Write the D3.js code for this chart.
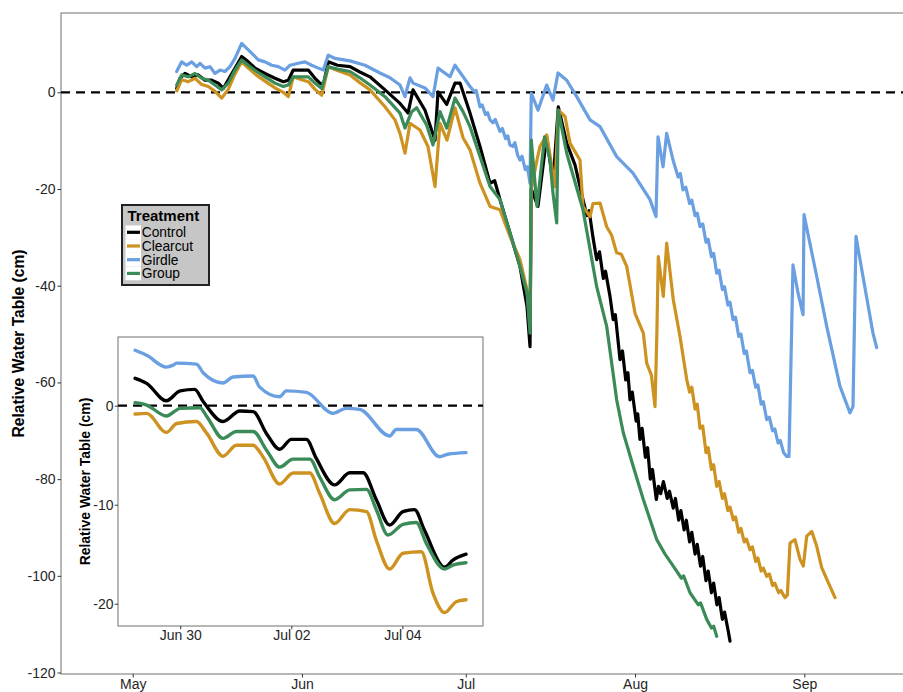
<!DOCTYPE html>
<html>
<head>
<meta charset="utf-8">
<script src="https://cdn.jsdelivr.net/npm/d3@7"></script>
<style>
  html, body { margin: 0; padding: 0; background: #fff; }
  svg { display: block; font-family: "Liberation Sans", Arial, sans-serif; }
</style>
</head>
<body>
<svg id="chart" width="903" height="692"></svg>
<script>
// Relative water table (cm) by treatment, 2017 season.
// Main series: [day of year, water table in cm]
const treatments = ["Control", "Clearcut", "Girdle", "Group"];
const treatmentColors = ["#000000", "#CD9220", "#6A9FE2", "#3A8B58"];

const control = [
  [129.06,0.8],[129.66,2.9],[130.58,3.9],[131.81,3.2],[133.01,3.6],[134.24,2.5],[135.47,2.5],
  [136.68,1.9],[137.59,0.8],[138.82,3.2],[140.05,5.6],[140.96,7.4],[142.17,6.3],[143.4,5.0],
  [145.23,3.9],[147.06,2.9],[148.58,2.2],[149.5,2.5],[150.41,4.6],[151.95,4.6],[153.16,4.6],
  [154.39,2.9],[155.3,1.9],[155.91,1.5],[156.82,6.3],[158.5,5.6],[160.8,5.3],[162.6,4.2],[164.46,3.2],
  [167.21,0.5],[169.96,-2.3],[171.42,-4.3],[172.34,0.5],[174.54,-3.7],[176.37,-9.9],[176.92,0.1],
  [178.51,-2.5],[180.03,1.9],[180.95,1.9],[182.78,-4.3],[184.61,-11.2],[186.44,-18.8],[187.3,-18.3],
  [188.27,-22.2],[190.1,-29.1],[191.93,-36.0],[193.22,-44.3],[193.77,-52.6],[194.0,-20.0],
  [195.23,-23.6],[196.82,-9.2],[197.98,-18.8],[198.95,-3.0],[200.49,-10.5],[202.01,-15.0],
  [203.47,-22.2],[204.2,-25.5],[204.6,-24.5],[205.3,-30.0],[205.98,-34.6],[206.5,-33.0],
  [207.2,-38.5],[207.6,-37.0],[208.42,-42.2],[209.0,-47.0],[209.4,-46.0],[210.25,-55.3],
  [210.7,-53.5],[211.3,-59.5],[211.7,-58.0],[212.08,-63.6],[212.5,-62.0],[213.2,-68.0],
  [213.5,-66.5],[213.9,-71.8],[214.3,-69.5],[214.9,-75.5],[215.3,-73.5],[215.8,-80.0],
  [216.2,-78.0],[216.9,-84.2],[217.3,-81.5],[217.7,-83.0],[218.2,-80.5],[218.9,-84.0],
  [219.3,-82.5],[220.0,-86.0],[220.4,-84.0],[221.0,-88.5],[221.4,-86.5],[222.0,-90.5],
  [222.4,-88.5],[223.0,-93.0],[223.4,-91.0],[224.0,-95.5],[224.4,-93.5],[225.0,-98.0],
  [225.4,-96.0],[226.0,-101.0],[226.4,-99.0],[227.0,-103.5],[227.4,-101.5],[228.0,-106.0],
  [228.4,-104.5],[229.0,-109.0],[229.4,-107.5],[230.0,-111.0],[230.4,-113.5]
];

const clearcut = [
  [129.06,0.3],[129.97,2.6],[131.18,2.2],[132.41,2.9],[133.64,1.6],[134.85,1.2],[136.07,0.2],
  [137.3,-1.2],[138.51,0.6],[139.74,3.8],[140.96,6.3],[142.17,5.0],[143.71,3.5],[145.23,2.3],
  [147.06,0.9],[148.58,0.0],[149.5,-0.9],[150.41,3.2],[151.95,2.6],[153.16,2.2],[154.39,0.6],
  [155.62,-0.6],[156.82,5.3],[158.5,4.5],[160.8,3.6],[162.6,2.0],[164.46,0.5],[167.21,-3.0],[169.04,-5.7],
  [169.96,-8.5],[170.87,-12.6],[171.79,-6.4],[173.62,-7.8],[175.08,-11.2],[176.37,-19.5],
  [177.28,-6.4],[178.56,-9.9],[180.03,-3.2],[181.5,-9.4],[182.78,-11.9],[184.61,-18.8],
  [186.44,-23.6],[188.27,-24.3],[190.1,-29.8],[191.93,-34.6],[193.22,-40.8],[193.77,-48.0],
  [194.0,-20.0],[195.05,-14.0],[195.6,-11.2],[196.82,-8.8],[198.35,-19.5],[198.95,-3.7],
  [200.18,-5.0],[201.09,-10.5],[202.92,-14.0],[203.47,-23.6],[204.76,-25.7],[205.3,-23.0],
  [206.59,-22.9],[207.81,-27.8],[208.7,-29.5],[209.64,-33.2],[210.5,-33.5],[211.48,-36.0],
  [213.0,-45.7],[214.52,-49.8],[215.14,-56.0],[216.0,-58.5],[216.66,-65.0],[217.0,-50.0],
  [217.26,-34.0],[218.18,-42.2],[218.8,-31.2],[220.01,-42.9],[221.24,-50.5],[222.47,-59.4],
  [223.0,-62.0],[223.4,-61.0],[224.0,-65.5],[224.4,-64.5],[224.9,-69.5],[225.4,-69.0],
  [226.0,-74.5],[226.4,-73.5],[227.0,-78.0],[227.4,-77.0],[227.96,-81.5],[228.4,-80.5],
  [229.0,-84.0],[229.4,-83.0],[230.0,-86.5],[230.4,-85.8],[231.0,-88.4],[231.4,-87.8],
  [232.0,-91.0],[232.4,-90.2],[233.0,-93.0],[233.4,-92.4],[234.06,-94.6],[234.5,-94.0],
  [235.1,-97.0],[235.5,-96.3],[236.1,-99.0],[236.5,-98.4],[237.12,-100.1],[237.6,-99.6],
  [238.2,-102.0],[238.6,-101.5],[239.3,-103.5],[239.7,-103.0],[240.47,-104.5],
  [240.9,-104.0],[241.39,-93.2],[242.3,-92.5],[243.22,-96.6],[243.82,-98.0],[244.45,-91.8],
  [245.36,-90.8],[246.28,-93.9],[247.19,-98.3],[248.4,-101.4],[249.63,-104.5]
];

const girdle = [
  [129.06,4.3],[129.97,6.3],[130.89,5.6],[131.81,6.3],[132.72,5.3],[133.33,6.0],[134.24,5.0],
  [135.16,5.3],[136.07,3.9],[136.99,4.6],[137.9,4.3],[138.82,5.3],[139.74,7.0],[140.96,10.1],
  [141.88,9.1],[142.79,8.1],[144.0,6.7],[145.23,6.3],[146.46,5.6],[147.67,5.3],[148.89,4.6],
  [149.81,5.6],[151.33,6.0],[152.56,6.3],[153.78,5.6],[154.99,5.0],[155.91,4.6],[156.82,7.7],
  [158.05,7.0],[160.8,6.5],[163.55,5.6],[166.29,4.0],[168.12,3.0],[169.96,1.5],[170.87,-0.9],
  [171.79,3.0],[172.34,1.9],[174.54,0.9],[176.0,-0.9],[176.92,5.0],[179.11,3.2],[180.03,5.6],
  [182.78,1.2],[183.5,0.2],[183.9,0.4],[184.61,-3.0],[185.0,-2.6],[185.6,-4.6],[186.0,-4.2],
  [186.44,-5.7],[187.0,-6.3],[187.4,-5.6],[188.27,-8.1],[188.7,-7.5],[189.3,-9.6],[189.7,-9.0],
  [190.1,-10.9],[190.6,-11.2],[191.0,-10.4],[191.5,-13.0],[191.93,-14.0],[192.3,-13.2],
  [192.9,-16.0],[193.3,-15.4],[193.77,-18.8],[194.0,-0.2],[195.23,-3.7],[196.82,1.5],
  [197.98,-1.6],[198.89,4.0],[200.49,2.5],[202.32,-0.9],[204.76,-5.7],[206.59,-7.1],
  [209.64,-13.3],[212.63,-16.7],[215.74,-22.2],[216.84,-25.7],[217.21,-9.2],[218.13,-15.4],
  [218.8,-8.5],[219.96,-14.0],[220.9,-17.5],[221.3,-16.8],[221.79,-20.2],[222.3,-19.6],
  [223.0,-23.0],[223.4,-22.3],[224.0,-25.5],[224.4,-25.0],[224.9,-27.8],[225.4,-27.2],
  [226.0,-31.0],[226.4,-30.4],[227.0,-34.0],[227.4,-33.3],[227.96,-37.4],[228.4,-36.8],
  [229.0,-40.8],[229.4,-40.2],[230.0,-44.0],[230.4,-43.4],[230.95,-47.0],[231.4,-46.5],
  [232.0,-50.5],[232.4,-50.0],[233.0,-54.0],[233.4,-53.5],[234.06,-58.0],[234.5,-57.5],
  [235.1,-61.0],[235.5,-60.5],[236.1,-64.5],[236.5,-64.0],[237.12,-67.7],[237.6,-67.2],
  [238.2,-70.0],[238.6,-69.6],[239.2,-72.5],[239.6,-72.0],[240.2,-74.5],[240.78,-75.3],
  [241.2,-75.3],[241.93,-35.7],[242.85,-41.5],[243.77,-46.0],
  [243.95,-25.3],[246.28,-38.1],[248.11,-48.4],[250.54,-60.8],[252.37,-66.3],[252.92,-65.0],
  [253.47,-29.8],[254.75,-38.1],[256.58,-49.8],[257.26,-52.8]
];

const group = [
  [129.06,1.5],[129.97,3.6],[131.18,3.2],[132.41,3.9],[133.64,2.9],[134.85,2.5],[136.07,1.5],
  [137.3,0.5],[138.51,1.9],[139.74,4.6],[140.96,6.7],[142.17,5.6],[143.71,4.3],[145.23,3.2],
  [147.06,1.9],[148.58,1.2],[149.5,1.5],[150.41,3.2],[151.95,3.2],[153.16,3.2],[154.39,1.9],
  [155.62,0.8],[156.82,5.3],[158.5,4.8],[160.8,4.3],[162.6,3.0],[164.46,1.5],[167.21,-0.9],[169.96,-4.3],
  [170.87,-7.4],[172.1,-4.0],[173.01,-3.2],[174.85,-6.8],[176.0,-10.9],[177.28,-4.0],
  [178.51,-7.4],[180.03,-1.2],[181.5,-4.0],[182.78,-7.1],[184.61,-13.3],[186.44,-19.5],
  [188.27,-22.2],[190.1,-29.1],[191.93,-36.0],[193.22,-41.5],[193.77,-49.8],[194.0,-9.9],
  [195.05,-23.6],[196.44,-9.2],[197.43,-14.0],[197.98,-20.9],[198.66,-27.0],[198.95,-3.7],
  [200.49,-12.6],[203.47,-24.3],[205.98,-40.2],[207.81,-48.4],[209.64,-63.6],[210.85,-70.4],
  [212.68,-77.4],[214.52,-84.2],[216.97,-92.5],[218.5,-95.5],[220.01,-98.0],[221.5,-100.5],
  [221.9,-100.0],[223.07,-103.5],[224.6,-106.0],[225.0,-105.6],[226.13,-109.0],[227.0,-110.8],
  [227.4,-110.4],[227.96,-112.5]
];

// Inset: 28 Jun - 5 Jul, [time, water table in cm]
const insetControl = [
  ["06-29 04:30",2.77],["06-29 09:30",2.26],["06-29 18:00",0.5],["06-30 00:00",1.5],
  ["06-30 06:15",1.65],["06-30 10:00",0.4],["06-30 18:30",-1.6],["07-01 01:45",-0.54],
  ["07-01 07:30",-0.6],["07-01 13:15",-2.8],["07-01 19:00",-4.4],["07-02 00:00",-3.4],
  ["07-02 06:30",-3.4],["07-02 10:45",-5.3],["07-02 18:45",-8.0],["07-03 01:15",-6.77],
  ["07-03 07:00",-6.77],["07-03 12:45",-9.5],["07-03 18:30",-12.05],["07-04 00:15",-10.7],
  ["07-04 05:15",-10.5],["07-04 09:30",-12.55],["07-04 18:15",-16.3],["07-04 21:50",-15.6],
  ["07-05 03:30",-15.0]
];
const insetClearcut = [
  ["06-29 04:30",-0.84],["06-29 09:30",-0.77],["06-29 18:00",-2.7],["06-29 22:30",-1.8],
  ["06-30 07:00",-1.6],["06-30 11:30",-2.8],["06-30 18:30",-5.1],["07-01 00:15",-4.0],
  ["07-01 07:30",-4.0],["07-01 11:45",-5.15],["07-01 19:00",-7.9],["07-02 00:45",-6.8],
  ["07-02 08:00",-6.8],["07-02 12:15",-8.85],["07-02 18:45",-11.9],["07-03 01:15",-10.5],
  ["07-03 08:30",-10.7],["07-03 12:45",-13.6],["07-03 18:30",-16.5],["07-04 00:15",-14.9],
  ["07-04 08:10",-14.75],["07-04 13:15",-18.95],["07-04 18:15",-20.9],["07-04 23:15",-19.8],
  ["07-05 03:30",-19.6]
];
const insetGirdle = [
  ["06-29 04:30",5.6],["06-29 09:30",5.1],["06-29 18:00",3.9],["06-29 21:00",4.1],
  ["06-29 22:30",4.3],["06-30 07:00",4.2],["06-30 10:00",3.3],["06-30 18:30",2.3],
  ["06-30 22:45",2.9],["07-01 07:30",3.0],["07-01 10:15",1.9],["07-01 19:00",0.9],
  ["07-01 21:50",1.5],["07-02 06:30",1.35],["07-02 18:00",-0.77],["07-02 23:45",-0.27],
  ["07-03 05:30",-0.37],["07-03 18:30",-3.06],["07-03 21:20",-2.4],["07-04 06:00",-2.4],
  ["07-04 16:00",-5.15],["07-04 19:40",-4.9],["07-05 03:30",-4.74]
];
const insetGroup = [
  ["06-29 04:30",0.3],["06-29 09:30",0.07],["06-29 18:00",-1.04],["06-30 00:00",-0.27],
  ["06-30 08:30",-0.2],["06-30 11:30",-1.1],["06-30 18:30",-3.3],["07-01 00:15",-2.6],
  ["07-01 07:30",-2.6],["07-01 13:15",-4.47],["07-01 19:00",-6.2],["07-02 00:45",-5.4],
  ["07-02 08:00",-5.4],["07-02 12:15",-7.2],["07-02 18:45",-9.5],["07-03 01:15",-8.5],
  ["07-03 08:30",-8.45],["07-03 12:45",-10.5],["07-03 17:45",-13.06],["07-04 00:15",-11.98],
  ["07-04 06:00",-11.8],["07-04 10:20",-13.9],["07-04 18:15",-16.5],["07-04 21:50",-16.1],
  ["07-05 03:30",-15.86]
];

const mainYTicks = [-120, -100, -80, -60, -40, -20, 0];
const mainXTicks = ["05-01", "06-01", "07-01", "08-01", "09-01"];
const insetYTicks = [-20, -10, 0];
const insetXTicks = ["06-30 00:00", "07-02 00:00", "07-04 00:00"];

const mainSeries = [control, clearcut, girdle, group];
const insetSeries = [insetControl, insetClearcut, insetGirdle, insetGroup];

// ---------------------------------------------------------------------------
const YEAR = 2017;
const doyToDate = doy => new Date(Date.UTC(YEAR, 0, 1) + (doy - 1) * 864e5);
const parseMD = d3.utcParse("%Y-%m-%d");
const parseMDHM = d3.utcParse("%Y-%m-%d %H:%M");
const md = s => parseMD(`${YEAR}-${s}`);
const mdhm = s => parseMDHM(`${YEAR}-${s}`);

const svg = d3.select("#chart");
const axisGrey = "#7d7d7d";
const textCol = "#262626";

function styleAxis(g, size) {
  g.select(".domain").remove();
  g.selectAll(".tick line").attr("stroke", "#333");
  g.selectAll(".tick text").attr("fill", textCol)
    .style("font-size", size + "px").style("font-family", "Liberation Sans, Arial, sans-serif");
}

// Main panel
const M = { left: 61, top: 13, right: 903, bottom: 674 };
const x = d3.scaleUtc()
  .domain([doyToDate(107.87), doyToDate(262.08)])
  .range([M.left, M.right]);
const y = d3.scaleLinear().domain([-120.3, 16.4]).range([M.bottom, M.top]);

svg.append("rect")
  .attr("x", M.left).attr("y", M.top)
  .attr("width", M.right - M.left + 10).attr("height", M.bottom - M.top)
  .attr("fill", "none").attr("stroke", axisGrey).attr("stroke-width", 1.1);

const xAxis = svg.append("g")
  .attr("transform", `translate(0,${M.bottom})`)
  .call(d3.axisBottom(x).tickValues(mainXTicks.map(md))
    .tickFormat(d3.utcFormat("%b")).tickSize(3.5).tickSizeOuter(0));
const yAxis = svg.append("g")
  .attr("transform", `translate(${M.left},0)`)
  .call(d3.axisLeft(y).tickValues(mainYTicks)
    .tickFormat(d => String(d)).tickSize(3.5).tickSizeOuter(0));
styleAxis(xAxis, 14);
styleAxis(yAxis, 14);
xAxis.selectAll(".tick text").attr("y", 14.5).attr("dy", 0);
yAxis.selectAll(".tick text").attr("x", -5.5);

svg.append("text")
  .attr("transform", `translate(24,${(M.top + M.bottom) / 2}) rotate(-90)`)
  .attr("text-anchor", "middle")
  .attr("fill", "#000")
  .style("font-size", "15.6px").style("font-weight", "bold")
  .text("Relative Water Table (cm)");

// zero reference line
svg.append("line")
  .attr("x1", M.left).attr("x2", M.right)
  .attr("y1", y(0)).attr("y2", y(0))
  .attr("stroke", "#000").attr("stroke-width", 2.2)
  .attr("stroke-dasharray", "9,6");

const mainLine = d3.line()
  .x(d => x(doyToDate(d[0])))
  .y(d => y(d[1]));

svg.append("g").selectAll("path")
  .data(mainSeries)
  .join("path")
  .attr("d", mainLine)
  .attr("fill", "none")
  .attr("stroke", (d, i) => treatmentColors[i])
  .attr("stroke-width", 3.2)
  .attr("stroke-linejoin", "round")
  .attr("stroke-linecap", "round");

// Legend
const lg = svg.append("g").attr("transform", "translate(122,205)");
lg.append("rect").attr("width", 87).attr("height", 80)
  .attr("fill", "#c6c6c6").attr("stroke", "#222").attr("stroke-width", 2);
lg.append("text").attr("x", 5.5).attr("y", 15.7)
  .style("font-size", "15px").style("font-weight", "bold").attr("fill", "#000")
  .text("Treatment");
treatments.forEach((t, i) => {
  const cy = 27.3 + i * 13.7;
  lg.append("rect").attr("x", 3.5).attr("y", cy - 6.85).attr("width", 15.5).attr("height", 13.7)
    .attr("fill", "#fff");
  lg.append("line").attr("x1", 5).attr("x2", 18).attr("y1", cy).attr("y2", cy)
    .attr("stroke", treatmentColors[i]).attr("stroke-width", 3.2);
  lg.append("text").attr("x", 19.7).attr("y", cy + 4.8)
    .style("font-size", "13.8px").attr("fill", "#000").text(t);
});

// Inset panel
const I = { left: 118, top: 337, right: 483, bottom: 626 };
const ix = d3.scaleUtc()
  .domain([mdhm("06-28 21:07"), mdhm("07-05 10:50")])
  .range([I.left, I.right]);
const iy = d3.scaleLinear().domain([-22.25, 6.94]).range([I.bottom, I.top]);

svg.append("rect")
  .attr("x", I.left).attr("y", I.top)
  .attr("width", I.right - I.left).attr("height", I.bottom - I.top)
  .attr("fill", "#fff").attr("stroke", axisGrey).attr("stroke-width", 1.1);

const ixAxis = svg.append("g")
  .attr("transform", `translate(0,${I.bottom})`)
  .call(d3.axisBottom(ix).tickValues(insetXTicks.map(mdhm))
    .tickFormat(d3.utcFormat("%b %d")).tickSize(3.2).tickSizeOuter(0));
const iyAxis = svg.append("g")
  .attr("transform", `translate(${I.left},0)`)
  .call(d3.axisLeft(iy).tickValues(insetYTicks)
    .tickFormat(d => String(d)).tickSize(3.2).tickSizeOuter(0));
styleAxis(ixAxis, 14);
styleAxis(iyAxis, 14);
ixAxis.selectAll(".tick text").attr("y", 14).attr("dy", 0);
iyAxis.selectAll(".tick text").attr("x", -4.5);

svg.append("text")
  .attr("transform", `translate(90,${(I.top + I.bottom) / 2}) rotate(-90)`)
  .attr("text-anchor", "middle")
  .attr("fill", "#000")
  .style("font-size", "13.9px").style("font-weight", "bold")
  .text("Relative Water Table (cm)");

svg.append("line")
  .attr("x1", I.left).attr("x2", I.right)
  .attr("y1", iy(0)).attr("y2", iy(0))
  .attr("stroke", "#000").attr("stroke-width", 2.2)
  .attr("stroke-dasharray", "9,6");

const insetLine = d3.line()
  .x(d => ix(mdhm(d[0])))
  .y(d => iy(d[1]))
  .curve(d3.curveMonotoneX);

svg.append("g").selectAll("path")
  .data(insetSeries)
  .join("path")
  .attr("d", insetLine)
  .attr("fill", "none")
  .attr("stroke", (d, i) => treatmentColors[i])
  .attr("stroke-width", 3.4)
  .attr("stroke-linejoin", "round")
  .attr("stroke-linecap", "round");
</script>
</body>
</html>
